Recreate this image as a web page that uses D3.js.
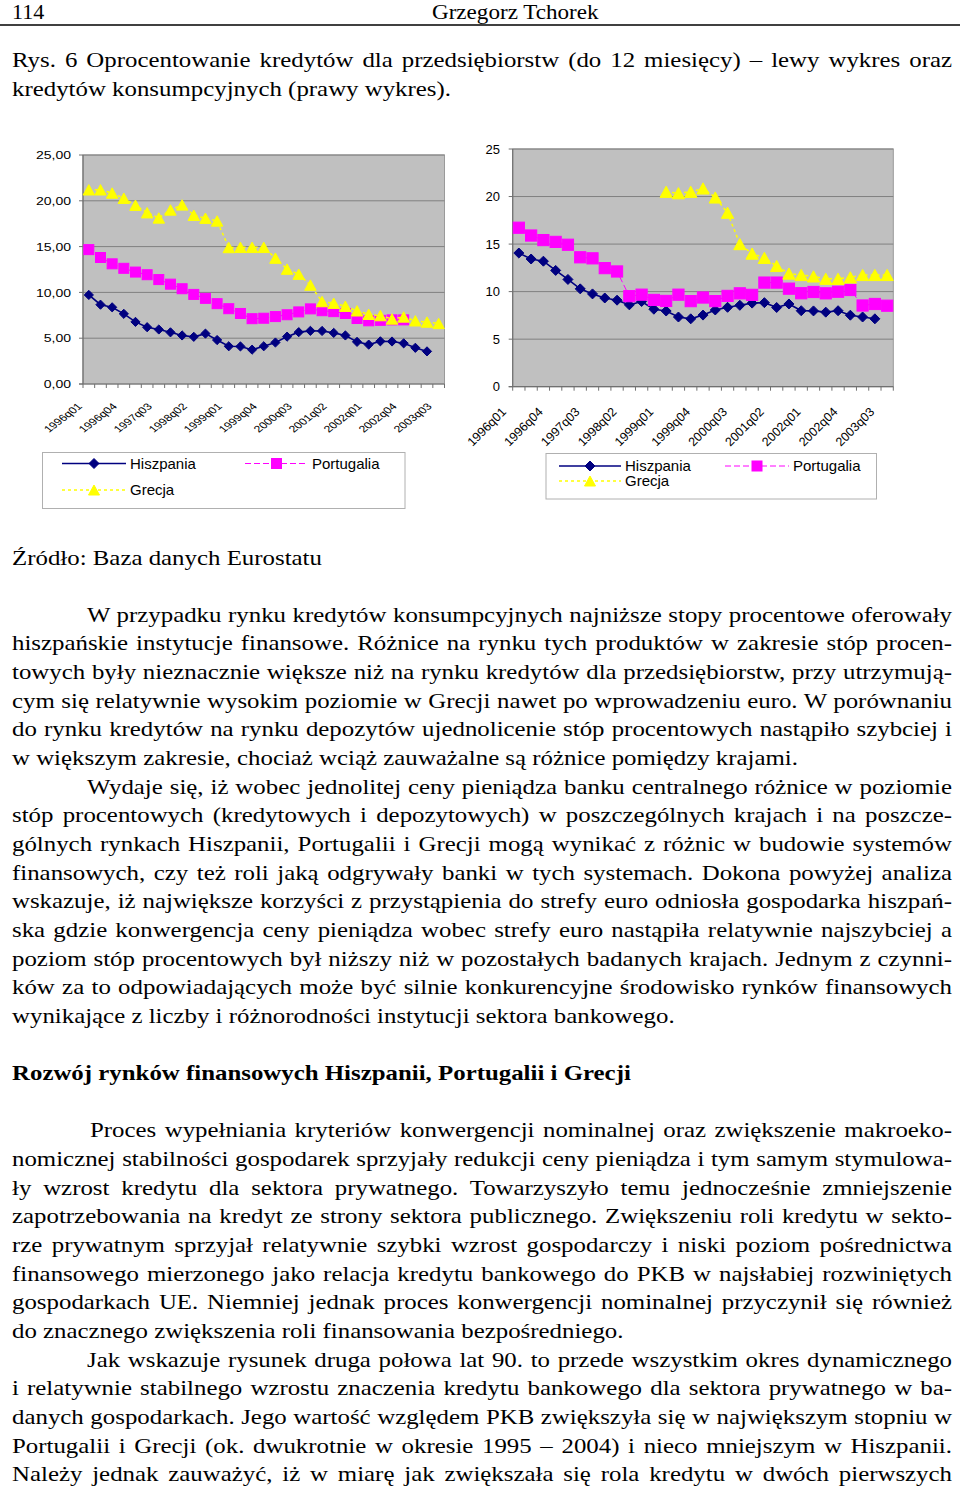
<!DOCTYPE html>
<html>
<head>
<meta charset="utf-8">
<script src="https://cdn.jsdelivr.net/npm/d3@7"></script>
<style>
body { margin: 0; background: #fff; }
svg { display: block; }
</style>
</head>
<body>
<svg width="960" height="1490"></svg>
<script>
// ---- data ----
var quarters = ["1996q01","1996q02","1996q03","1996q04","1997q01","1997q02","1997q03","1997q04",
  "1998q01","1998q02","1998q03","1998q04","1999q01","1999q02","1999q03","1999q04",
  "2000q01","2000q02","2000q03","2000q04","2001q01","2001q02","2001q03","2001q04",
  "2002q01","2002q02","2002q03","2002q04","2003q01","2003q02","2003q03"]
var shownLabels = ["1996q01","1996q04","1997q03","1998q02","1999q01","1999q04","2000q03","2001q02","2002q01","2002q04","2003q03"]
var seriesNames = ["Hiszpania","Portugalia","Grecja"]

// left: kredyty dla przedsiebiorstw (do 12 m-cy)
var hiszpaniaL = [9.72,8.66,8.37,7.66,6.78,6.2,5.95,5.64,5.3,5.15,5.5,4.8,4.12,4.1,3.75,4.12,4.53,5.17,5.66,5.8,5.79,5.58,5.3,4.6,4.3,4.66,4.64,4.44,3.95,3.56,null]
var portugaliaL = [14.67,13.81,13.12,12.63,12.22,11.93,11.4,10.9,10.4,9.78,9.35,8.77,8.22,7.7,7.13,7.18,7.36,7.56,7.87,8.2,8.0,7.9,7.7,7.15,6.9,6.95,7.0,7.0,null,null,null]
var grecjaL = [21.2,21.2,20.85,20.28,19.52,18.7,18.13,19.0,19.55,18.43,18.1,17.8,14.9,14.92,14.92,14.92,13.74,12.54,11.99,10.8,9.0,8.82,8.49,7.99,7.61,7.47,7.1,7.32,6.9,6.76,6.61]

// right: kredyty konsumpcyjne
var hiszpaniaR = [14.06,13.43,13.2,12.23,11.28,10.29,9.76,9.33,9.1,8.61,8.96,8.15,7.96,7.33,7.14,7.53,8.07,8.35,8.56,8.79,8.84,8.33,8.7,7.99,7.97,7.84,7.99,7.52,7.33,7.14,null]
var portugaliaR = [16.72,15.9,15.42,15.23,14.93,13.61,13.5,12.47,12.12,9.52,9.68,9.13,9.02,9.68,9.0,9.38,9.0,9.55,9.82,9.66,10.95,10.95,10.31,9.83,9.96,9.82,9.99,10.17,8.54,8.7,8.52]
var grecjaR = [null,null,null,null,null,null,null,null,null,null,null,null,20.5,20.35,20.5,20.85,19.9,18.3,15.0,14.0,13.55,12.7,11.9,11.75,11.6,11.35,11.35,11.5,11.75,11.75,11.75]

var yTicksL = ["0,00","5,00","10,00","15,00","20,00","25,00"]
var yTicksR = ["0","5","10","15","20","25"]
var yTickValues = [0,5,10,15,20,25]

// ---- text ----
var header = ["114", "Grzegorz Tchorek"]
var caption = ["Rys. 6 Oprocentowanie kredytów dla przedsiębiorstw (do 12 miesięcy) – lewy wykres oraz",
  "kredytów konsumpcyjnych (prawy wykres)."]
var source = "Źródło: Baza danych Eurostatu"
var heading = "Rozwój rynków finansowych Hiszpanii, Portugalii i Grecji"
var para1 = ["W przypadku rynku kredytów konsumpcyjnych najniższe stopy procentowe oferowały",
  "hiszpańskie instytucje finansowe. Różnice na rynku tych produktów w zakresie stóp procen-",
  "towych były nieznacznie większe niż na rynku kredytów dla przedsiębiorstw, przy utrzymują-",
  "cym się relatywnie wysokim poziomie w Grecji nawet po wprowadzeniu euro. W porównaniu",
  "do rynku kredytów na rynku depozytów ujednolicenie stóp procentowych nastąpiło szybciej i",
  "w większym zakresie, chociaż wciąż zauważalne są różnice pomiędzy krajami."]
var para2 = ["Wydaje się, iż wobec jednolitej ceny pieniądza banku centralnego różnice w poziomie",
  "stóp procentowych (kredytowych i depozytowych) w poszczególnych krajach i na poszcze-",
  "gólnych rynkach Hiszpanii, Portugalii i Grecji mogą wynikać z różnic w budowie systemów",
  "finansowych, czy też roli jaką odgrywały banki w tych systemach. Dokona powyżej analiza",
  "wskazuje, iż największe korzyści z przystąpienia do strefy euro odniosła gospodarka hiszpań-",
  "ska gdzie konwergencja ceny pieniądza wobec strefy euro nastąpiła relatywnie najszybciej a",
  "poziom stóp procentowych był niższy niż w pozostałych badanych krajach. Jednym z czynni-",
  "ków za to odpowiadających może być silnie konkurencyjne środowisko rynków finansowych",
  "wynikające z liczby i różnorodności instytucji sektora bankowego."]
var para3 = ["Proces wypełniania kryteriów konwergencji nominalnej oraz zwiększenie makroeko-",
  "nomicznej stabilności gospodarek sprzyjały redukcji ceny pieniądza i tym samym stymulowa-",
  "ły wzrost kredytu dla sektora prywatnego. Towarzyszyło temu jednocześnie zmniejszenie",
  "zapotrzebowania na kredyt ze strony sektora publicznego. Zwiększeniu roli kredytu w sekto-",
  "rze prywatnym sprzyjał relatywnie szybki wzrost gospodarczy i niski poziom pośrednictwa",
  "finansowego mierzonego jako relacja kredytu bankowego do PKB w najsłabiej rozwiniętych",
  "gospodarkach UE. Niemniej jednak proces konwergencji nominalnej przyczynił się również",
  "do znacznego zwiększenia roli finansowania bezpośredniego."]
var para4 = ["Jak wskazuje rysunek druga połowa lat 90. to przede wszystkim okres dynamicznego",
  "i relatywnie stabilnego wzrostu znaczenia kredytu bankowego dla sektora prywatnego w ba-",
  "danych gospodarkach. Jego wartość względem PKB zwiększyła się w największym stopniu w",
  "Portugalii i Grecji (ok. dwukrotnie w okresie 1995 – 2004) i nieco mniejszym w Hiszpanii.",
  "Należy jednak zauważyć, iż w miarę jak zwiększała się rola kredytu w dwóch pierwszych"]

var svg = d3.select("svg")
var serif = "'Liberation Serif','Times New Roman',serif"
var sans = "'Liberation Sans',Arial,sans-serif"
var fs = 22, sx = 1.13

function textLine(str, x, y, opt) {
  opt = opt || {}
  var s = opt.sx || sx
  var g = svg.append("g").attr("transform", "translate(" + x + "," + y + ") scale(" + s + ",1)")
  var t = g.append("text")
    .attr("font-family", serif)
    .attr("font-size", opt.size || fs)
    .attr("font-weight", opt.bold ? "bold" : "normal")
    .attr("fill", "#000")
    .text(str)
  if (opt.right) {
    var w = t.node().getComputedTextLength()
    var n = (str.match(/ /g) || []).length
    var target = (opt.right - x) / s
    if (n > 0) t.style("word-spacing", ((target - w) / n) + "px")
  }
  return t
}

function paragraph(lines, row0, indent, lastJustified) {
  lines.forEach(function (l, i) {
    var just = i < lines.length - 1 || lastJustified
    textLine(l, i == 0 ? indent : 12, 621.7 + (row0 + i) * 28.65, just ? { right: 952 } : {})
  })
}

// header
textLine(header[0], 12, 18.5, { size: 21, sx: 1.05 })
textLine(header[1], 432, 18.5, { size: 21, sx: 1.1 })
svg.append("line").attr("x1", 0).attr("x2", 960).attr("y1", 25).attr("y2", 25)
  .attr("stroke", "#000").attr("stroke-width", 1.3)

textLine(caption[0], 12, 67, { right: 952 })
textLine(caption[1], 12, 95.5)
textLine(source, 12, 565)

paragraph(para1, 0, 87)
paragraph(para2, 6, 87)
textLine(heading, 12, 621.7 + 16 * 28.65, { bold: true })
paragraph(para3, 18, 90)
paragraph(para4, 26, 87, true)

// ---- charts ----
function marker(sel, kind, s) {
  if (kind == "diamond") {
    sel.append("path").attr("d", "M0," + (-s) + "L" + s + ",0L0," + s + "L" + (-s) + ",0Z")
      .attr("fill", "#000080").attr("stroke", "#000080")
  } else if (kind == "square") {
    sel.append("rect").attr("x", -s).attr("y", -s).attr("width", 2 * s).attr("height", 2 * s)
      .attr("fill", "#FF00FF").attr("stroke", "#FF00FF")
  } else {
    sel.append("path").attr("d", "M0," + (-s) + "L" + (s * 1.1) + "," + s + "L" + (-s * 1.1) + "," + s + "Z")
      .attr("fill", "#FFFF00").attr("stroke", "#FFFF00")
  }
}

var styles = [
  { color: "#000080", dash: null, width: 1.6, kind: "diamond" },
  { color: "#FF00FF", dash: "6,3", width: 1, kind: "square" },
  { color: "#FFFF00", dash: "3,3", width: 1.5, kind: "triangle" }
]

function drawChart(c) {
  var x = d3.scaleBand().domain(quarters).range([c.x0, c.x1])
  var y = d3.scaleLinear().domain([0, 25]).range([c.y1, c.y0])
  var g = svg.append("g")

  g.append("rect").attr("x", c.x0).attr("y", c.y0).attr("width", c.x1 - c.x0).attr("height", c.y1 - c.y0)
    .attr("fill", "#C0C0C0").attr("stroke", "#9a9a9a").attr("stroke-width", 1)

  g.selectAll("line.grid").data(yTickValues.slice(1)).enter().append("line")
    .attr("x1", c.x0).attr("x2", c.x1).attr("y1", d => y(d)).attr("y2", d => y(d))
    .attr("stroke", "#808080").attr("stroke-width", 1)

  // axes
  g.append("line").attr("x1", c.x0).attr("x2", c.x0).attr("y1", c.y0).attr("y2", c.y1)
    .attr("stroke", "#707070").attr("stroke-width", 1.2)
  g.append("line").attr("x1", c.x0 - 4).attr("x2", c.x1).attr("y1", c.y1).attr("y2", c.y1)
    .attr("stroke", "#707070").attr("stroke-width", 1.2)
  var bounds = quarters.map(q => x(q)).concat([c.x1])
  g.selectAll("line.xt").data(bounds).enter().append("line")
    .attr("x1", d => d).attr("x2", d => d).attr("y1", c.y1).attr("y2", c.y1 + 4)
    .attr("stroke", "#707070").attr("stroke-width", 1)
  g.selectAll("line.yt").data(yTickValues).enter().append("line")
    .attr("x1", c.x0 - 4).attr("x2", c.x0).attr("y1", d => y(d)).attr("y2", d => y(d))
    .attr("stroke", "#707070").attr("stroke-width", 1)

  g.selectAll("text.yl").data(yTickValues).enter().append("text")
    .attr("transform", d => "translate(" + c.ylx + "," + (y(d) + c.yfs * 0.36) + ") scale(" + c.ysx + ",1)")
    .attr("text-anchor", "end").attr("font-family", sans).attr("font-size", c.yfs)
    .text((d, i) => c.yLabels[i])

  g.selectAll("text.xl").data(shownLabels).enter().append("text")
    .attr("transform", d => "translate(" + (x(d) + x.bandwidth() / 2 + c.xlDx) + "," + (c.y1 + c.xlDy) +
      ") scale(" + c.xsx + ",1) rotate(-45)")
    .attr("text-anchor", "end").attr("font-family", sans).attr("font-size", c.xfs)
    .text(d => d)

  c.series.forEach(function (vals, si) {
    var st = styles[si]
    var pts = vals.map((v, i) => ({ q: quarters[i], v: v })).filter(p => p.v != null)
    var line = d3.line().x(p => x(p.q) + x.bandwidth() / 2).y(p => y(p.v))
    g.append("path").datum(pts).attr("d", line).attr("fill", "none")
      .attr("stroke", st.color).attr("stroke-width", st.width)
      .attr("stroke-dasharray", st.dash)
    g.selectAll(null).data(pts).enter().append("g")
      .attr("transform", p => "translate(" + (x(p.q) + x.bandwidth() / 2) + "," + y(p.v) + ")")
      .each(function () { marker(d3.select(this), st.kind, c.ms[si]) })
  })

  // legend
  var L = c.legend
  g.append("rect").attr("x", L.x).attr("y", L.y).attr("width", L.w).attr("height", L.h)
    .attr("fill", "#fff").attr("stroke", "#b0b0b0").attr("stroke-width", 1)
  L.items.forEach(function (it, si) {
    var st = styles[si]
    g.append("line").attr("x1", it.lx0).attr("x2", it.lx1).attr("y1", it.y).attr("y2", it.y)
      .attr("stroke", st.color).attr("stroke-width", st.width).attr("stroke-dasharray", st.dash)
    marker(g.append("g").attr("transform", "translate(" + ((it.lx0 + it.lx1) / 2) + "," + it.y + ")"), st.kind, L.ms)
    g.append("text").attr("x", it.lx1 + 4).attr("y", it.y + L.fs * 0.36)
      .attr("font-family", sans).attr("font-size", L.fs).text(seriesNames[si])
  })
}

drawChart({
  x0: 83, x1: 444.5, y0: 155, y1: 384,
  series: [hiszpaniaL, portugaliaL, grecjaL],
  yLabels: yTicksL, ylx: 71, yfs: 11.5, ysx: 1.22,
  xfs: 9.5, xsx: 1.3, xlDx: -6, xlDy: 23,
  ms: [4.6, 5, 5.2],
  legend: { x: 42.5, y: 452.5, w: 362.5, h: 56, fs: 15, ms: 5,
    items: [{ lx0: 62, lx1: 126, y: 463.5 }, { lx0: 245, lx1: 308, y: 463.5 }, { lx0: 62, lx1: 126, y: 490 }] }
})

drawChart({
  x0: 512.7, x1: 893.3, y0: 149, y1: 386.7,
  series: [hiszpaniaR, portugaliaR, grecjaR],
  yLabels: yTicksR, ylx: 500, yfs: 13, ysx: 1,
  xfs: 12.5, xsx: 1, xlDx: -12, xlDy: 26,
  ms: [5, 5.6, 5.6],
  legend: { x: 546, y: 453.5, w: 330.5, h: 45.5, fs: 15, ms: 5,
    items: [{ lx0: 559, lx1: 621, y: 466 }, { lx0: 725, lx1: 789, y: 466 }, { lx0: 559, lx1: 621, y: 481 }] }
})
</script>
</body>
</html>
